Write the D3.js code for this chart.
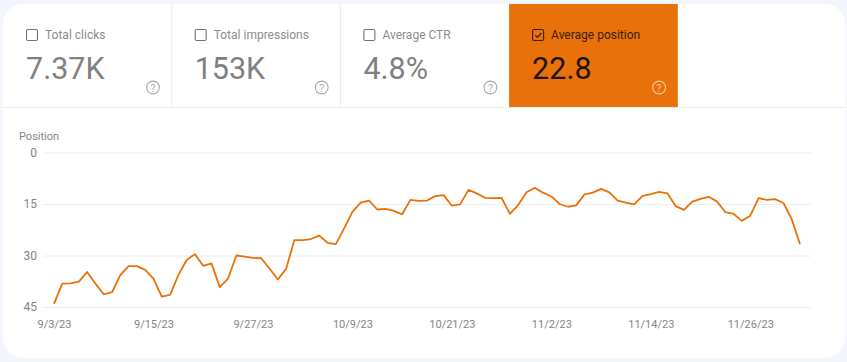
<!DOCTYPE html>
<html>
<head>
<meta charset="utf-8">
<title>Average position</title>
<script src="https://d3js.org/d3.v7.min.js"></script>
<style>
  html, body { margin: 0; padding: 0; background: #f1f5fc; }
  svg { display: block; font-family: Roboto, sans-serif; }
  .domain { display: none; }
  .tick line { stroke: #ececec; }
  .tick text { fill: #858585; font-size: 11px; font-family: Roboto, sans-serif; }
</style>
</head>
<body>
<svg id="chart" width="847" height="362"></svg>
<script>
var tileLabels = ["Total clicks", "Total impressions", "Average CTR", "Average position"];
var tileValues = ["7.37K", "153K", "4.8%", "22.8"];
var tileChecked = [false, false, false, true];

var startDate = "9/3/23";
var xTickLabels = ["9/3/23", "9/15/23", "9/27/23", "10/9/23", "10/21/23", "11/2/23", "11/14/23", "11/26/23"];
var yTicks = [0, 15, 30, 45];
var positions = [
  44.1, 38.2, 38.1, 37.6, 34.8, 38.2, 41.3, 40.7, 35.7, 33.1,
  33.1, 34.2, 36.7, 42.0, 41.5, 35.7, 31.3, 29.6, 33.0, 32.3,
  39.2, 36.7, 30.0, 30.3, 30.7, 30.8, 33.8, 37.0, 33.9, 25.5,
  25.5, 25.2, 24.2, 26.3, 26.7, 22.1, 17.3, 14.6, 14.0, 16.6,
  16.4, 17.0, 18.0, 13.8, 14.1, 14.0, 12.7, 12.4, 15.5, 15.1,
  10.9, 11.9, 13.2, 13.3, 13.2, 17.9, 15.3, 11.6, 10.3, 11.7,
  12.8, 15.0, 15.8, 15.4, 12.2, 11.7, 10.6, 11.6, 14.0, 14.6,
  15.1, 12.6, 12.1, 11.5, 11.9, 15.6, 16.7, 14.3, 13.5, 12.9,
  14.3, 17.4, 17.9, 19.9, 18.4, 13.3, 13.8, 13.6, 14.7, 19.4, 26.7
];

var orange = "#e8710a";
var parseDate = d3.timeParse("%-m/%-d/%y");
var formatDate = d3.timeFormat("%-m/%-d/%y");
var day0 = parseDate(startDate);

var svg = d3.select("#chart");

// white card
svg.append("rect")
  .attr("x", 3).attr("y", 4)
  .attr("width", 842).attr("height", 354)
  .attr("rx", 20)
  .attr("fill", "white");

// metric tiles
var tileW = 168.7, tileX = 3, tileY = 4, tileBottom = 107;

var tiles = svg.selectAll(".tile")
  .data(tileLabels)
  .enter()
  .append("g")
    .attr("class", "tile")
    .attr("transform", function(d, i) { return "translate(" + (tileX + i * tileW) + "," + tileY + ")"; });

tiles.filter(function(d, i) { return tileChecked[i]; })
  .append("rect")
    .attr("x", 0).attr("y", 0)
    .attr("width", tileW).attr("height", tileBottom - tileY)
    .attr("fill", orange);

// separators between the white tiles
tiles.filter(function(d, i) { return i < 2; })
  .append("line")
    .attr("x1", tileW).attr("x2", tileW)
    .attr("y1", 0).attr("y2", tileBottom - tileY)
    .attr("stroke", "#e8eaed");

// checkboxes
tiles.append("rect")
    .attr("x", 23.5).attr("y", 25.5)
    .attr("width", 11).attr("height", 11)
    .attr("rx", 1.5)
    .attr("fill", "none")
    .attr("stroke", function(d, i) { return tileChecked[i] ? "#3a2006" : "#6f7377"; })
    .attr("stroke-width", 1.1);

tiles.filter(function(d, i) { return tileChecked[i]; })
  .append("path")
    .attr("d", "M26.2 31.2 L28.4 33.4 L32.2 29")
    .attr("fill", "none")
    .attr("stroke", "#3a2006")
    .attr("stroke-width", 1.2);

tiles.append("text")
    .attr("x", 42).attr("y", 34.5)
    .attr("font-size", 12)
    .attr("fill", function(d, i) { return tileChecked[i] ? "#3a2006" : "#8c8c8c"; })
    .text(function(d) { return d; });

tiles.append("text")
    .attr("x", 23).attr("y", 74.5)
    .attr("font-size", 30.5)
    .attr("fill", function(d, i) { return tileChecked[i] ? "#1f1408" : "#808080"; })
    .text(function(d, i) { return tileValues[i]; });

// help icons
tiles.append("circle")
    .attr("cx", 150).attr("cy", 83.5).attr("r", 6.4)
    .attr("fill", "none")
    .attr("stroke", function(d, i) { return tileChecked[i] ? "#f6c79d" : "#a8a8a8"; })
    .attr("stroke-width", 1.1);

tiles.append("text")
    .attr("x", 150).attr("y", 87.5)
    .attr("text-anchor", "middle")
    .attr("font-size", 10.5)
    .attr("fill", function(d, i) { return tileChecked[i] ? "#f6c79d" : "#a8a8a8"; })
    .text("?");

// line under the tiles
svg.append("line")
  .attr("x1", 3).attr("x2", 845)
  .attr("y1", 107.5).attr("y2", 107.5)
  .attr("stroke", "#e8eaed");

// chart
var x = d3.scaleTime()
  .domain([day0, d3.timeDay.offset(day0, positions.length - 1)])
  .range([54, 800]);

var y = d3.scaleLinear()
  .domain([0, 45])
  .range([152.5, 307]);

svg.append("text")
  .attr("x", 19).attr("y", 140)
  .attr("font-size", 11)
  .attr("fill", "#858585")
  .text("Position");

svg.append("g")
  .attr("transform", "translate(44,0)")
  .call(d3.axisLeft(y).tickValues(yTicks).tickSize(-767).tickPadding(7))
  .call(function(g) { g.selectAll("text").style("font-size", "12px"); });

svg.append("g")
  .attr("transform", "translate(0,320)")
  .call(d3.axisBottom(x)
    .tickValues(xTickLabels.map(parseDate))
    .tickFormat(formatDate)
    .tickSize(0)
    .tickPadding(0))
  .call(function(g) { g.selectAll("text").attr("dy", "0.71em"); });

var line = d3.line()
  .x(function(d, i) { return x(d3.timeDay.offset(day0, i)); })
  .y(function(d) { return y(d); });

svg.append("path")
  .datum(positions)
  .attr("d", line)
  .attr("fill", "none")
  .attr("stroke", orange)
  .attr("stroke-width", 1.8)
  .attr("stroke-linejoin", "round");
</script>
</body>
</html>
